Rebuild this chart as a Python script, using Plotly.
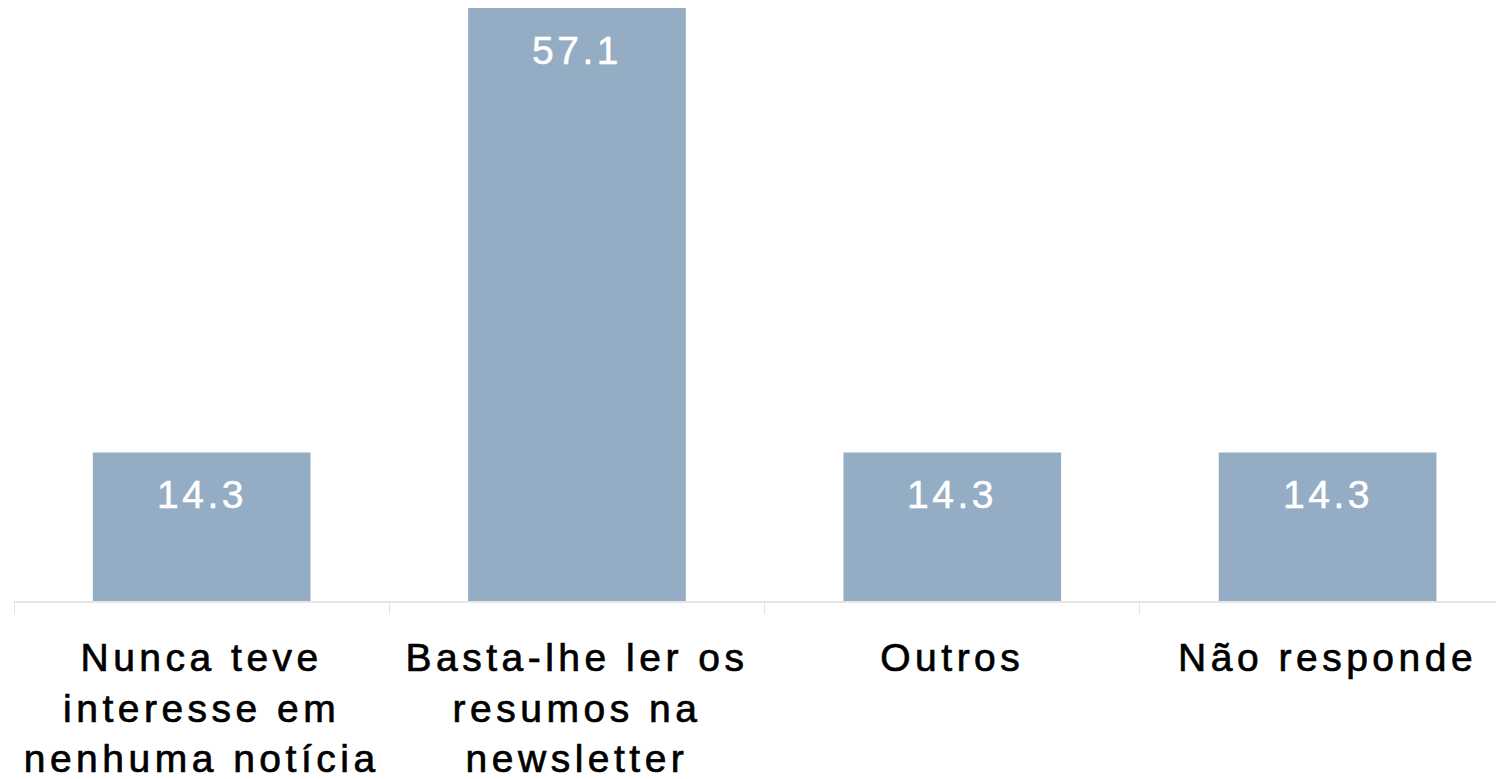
import plotly.graph_objects as go

categories = ["Nunca teve<br>interesse em<br>nenhuma notícia",
              "Basta-lhe ler os<br>resumos na<br>newsletter",
              "Outros",
              "Não responde"]
values = [14.3, 57.1, 14.3, 14.3]
value_labels = ["14.3", "57.1", "14.3", "14.3"]

BAR_COLOR = "#94adc4"
FONT = "Liberation Sans, Arial, sans-serif"

fig = go.Figure(go.Bar(
    x=categories, y=values, marker=dict(color=BAR_COLOR, line=dict(width=0)),
    width=0.58, hoverinfo="skip",
))

for c, v, t in zip(categories, values, value_labels):
    fig.add_annotation(x=c, y=v, text=t, showarrow=False, yanchor="middle",
                       yshift=-42, font=dict(family=FONT, size=39, color="white"))

fig.update_layout(
    width=1496, height=771,
    margin=dict(l=6, r=0, t=0, b=178),
    plot_bgcolor="white", paper_bgcolor="white",
    showlegend=False,
    xaxis=dict(
        range=[-0.5, 3.47], showline=True, linecolor="#e6e6e6", linewidth=2,
        ticks="outside", tickson="boundaries", ticklen=11, tickcolor="#e3e3e3",
        tickwidth=1, showgrid=False, ticklabelstandoff=21,
        tickfont=dict(family=FONT, size=39, color="black"),
    ),
    yaxis=dict(range=[0, 57.1], visible=False, showgrid=False, zeroline=False),
)

fig.write_html("out.html", post_script=(
    "var s=document.createElement('style');"
    "s.textContent='.xtick text{letter-spacing:4.5px;stroke:#000;stroke-width:0.7px}"
    ".annotation-text{letter-spacing:3.5px;stroke:#fff;stroke-width:0.5px}';"
    "document.head.appendChild(s);"
))
